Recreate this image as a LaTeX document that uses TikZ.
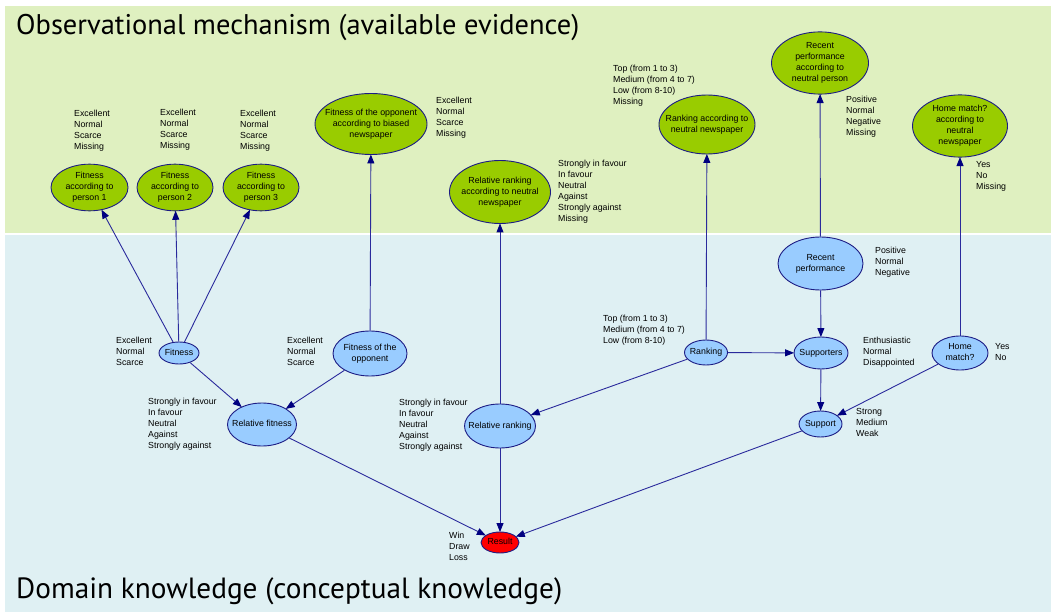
\documentclass[tikz,border=0pt]{standalone}
\usepackage{fontspec}
\setmainfont{Liberation Sans}
\newfontfamily\bandfont{PT Sans}
\usetikzlibrary{shapes.geometric,arrows.meta}

\definecolor{obsbg}{HTML}{DFF0C0}
\definecolor{domainbg}{HTML}{DFF0F3}
\definecolor{obsfill}{HTML}{99CC00}
\definecolor{varfill}{HTML}{99CCFF}
\definecolor{resfill}{HTML}{FF0000}
\definecolor{edge}{HTML}{2A2A9C}
\definecolor{rim}{HTML}{1C1C84}
\definecolor{tip}{HTML}{000080}

% centred multi-line text that does not widen its ellipse
\newcommand\inner[1]{\makebox[0pt]{\begin{tabular}{@{}c@{}}#1\end{tabular}}}

\tikzset{
  every node/.style={font=\fontsize{8.8}{11}\selectfont},
  oval/.style={ellipse, draw=rim, line width=0.9pt, inner sep=0pt},
  obs/.style={oval, fill=obsfill},
  var/.style={oval, fill=varfill},
  res/.style={oval, fill=resfill},
  states/.style={anchor=north west, inner sep=0pt, align=left},
  link/.style={draw=edge, line width=0.9pt,
    -{Triangle[length=9pt,width=7pt,fill=tip,color=tip]}, shorten >=-0.5pt},
  band/.style={inner sep=0pt, anchor=base west, font=\bandfont\fontsize{24}{28}\selectfont}
}

\begin{document}
\begin{tikzpicture}[x=1pt,y=-1pt]
\useasboundingbox (0,0) rectangle (1051,612);
\fill[white] (0,0) rectangle (1051,612);
\fill[obsbg] (5,6) rectangle (1051,233);
\fill[domainbg] (5,235) rectangle (1051,612);

\node[band] (obstitle) at (16,35) {\resizebox{563pt}{!}{Observational mechanism (available evidence)}};
\node[band] (domtitle) at (16,598) {\resizebox{546pt}{!}{Domain knowledge (conceptual knowledge)}};

% observed variables
\node[obs, minimum width=77pt, minimum height=45pt] (p1) at (89.5,187.5) {\inner{Fitness\\according to\\person 1}};
\node[obs, minimum width=76pt, minimum height=45pt] (p2) at (175,187.5) {\inner{Fitness\\according to\\person 2}};
\node[obs, minimum width=76pt, minimum height=45pt] (p3) at (261,187.5) {\inner{Fitness\\according to\\person 3}};
\node[obs, minimum width=112pt, minimum height=61pt] (oppnews) at (371,124) {\inner{Fitness of the opponent\\according to biased\\newspaper}};
\node[obs, minimum width=101pt, minimum height=63pt] (relnews) at (500,192) {\inner{Relative ranking\\according to neutral\\newspaper}};
\node[obs, minimum width=96pt, minimum height=59pt] (ranknews) at (707,124.5) {\inner{Ranking according to\\neutral newspaper}};
\node[obs, minimum width=97pt, minimum height=60pt] (recperson) at (820,63) {\inner{Recent\\performance\\according to\\neutral person}};
\node[obs, minimum width=95pt, minimum height=57pt] (homenews) at (960,126) {\inner{Home match?\\according to\\neutral\\newspaper}};

% domain variables
\node[var, minimum width=40pt, minimum height=22pt] (fit) at (179,353) {\inner{Fitness}};
\node[var, minimum width=74pt, minimum height=45pt] (opp) at (370,353.5) {\inner{Fitness of the\\opponent}};
\node[var, minimum width=69pt, minimum height=43pt] (relfit) at (262,424.5) {\inner{Relative fitness}};
\node[var, minimum width=71pt, minimum height=44pt] (relrank) at (500,426) {\inner{Relative ranking}};
\node[var, minimum width=43pt, minimum height=25pt] (rank) at (706,352.5) {\inner{Ranking}};
\node[var, minimum width=85pt, minimum height=53pt] (recent) at (820.5,263.5) {\inner{Recent\\performance}};
\node[var, minimum width=54pt, minimum height=32pt] (supporters) at (821,353) {\inner{Supporters}};
\node[var, minimum width=56pt, minimum height=34pt] (home) at (960,353) {\inner{Home\\match?}};
\node[var, minimum width=43pt, minimum height=26pt] (support) at (820.5,424) {\inner{Support}};
\node[res, minimum width=38pt, minimum height=21pt] (result) at (500,542.5) {\inner{Result}};

% state lists
\node[states] (sp1) at (74,110) {Excellent\\Normal\\Scarce\\Missing};
\node[states] (sp2) at (160,109) {Excellent\\Normal\\Scarce\\Missing};
\node[states] (sp3) at (240,110) {Excellent\\Normal\\Scarce\\Missing};
\node[states] (soppnews) at (436,97) {Excellent\\Normal\\Scarce\\Missing};
\node[states] (srelnews) at (558,160) {Strongly in favour\\In favour\\Neutral\\Against\\Strongly against\\Missing};
\node[states] (sranknews) at (613,65) {Top (from 1 to 3)\\Medium (from 4 to 7)\\Low (from 8-10)\\Missing};
\node[states] (srecperson) at (846,96) {Positive\\Normal\\Negative\\Missing};
\node[states] (shomenews) at (976,161) {Yes\\No\\Missing};
\node[states] (sfit) at (116,337) {Excellent\\Normal\\Scarce};
\node[states] (sopp) at (287,337) {Excellent\\Normal\\Scarce};
\node[states] (srelfit) at (148,398) {Strongly in favour\\In favour\\Neutral\\Against\\Strongly against};
\node[states] (srelrank) at (399,399) {Strongly in favour\\In favour\\Neutral\\Against\\Strongly against};
\node[states] (srank) at (603,315) {Top (from 1 to 3)\\Medium (from 4 to 7)\\Low (from 8-10)};
\node[states] (srecent) at (875,247) {Positive\\Normal\\Negative};
\node[states] (ssupporters) at (863,337) {Enthusiastic\\Normal\\Disappointed};
\node[states] (shome) at (995,343) {Yes\\No};
\node[states] (ssupport) at (856,408) {Strong\\Medium\\Weak};
\node[states] (sresult) at (449,532) {Win\\Draw\\Loss};

% observation links
\draw[link] (fit) -- (p1);
\draw[link] (fit) -- (p2);
\draw[link] (fit) -- (p3);
\draw[link] (opp) -- (oppnews);
\draw[link] (relrank) -- (relnews);
\draw[link] (rank) -- (ranknews);
\draw[link] (recent) -- (recperson);
\draw[link] (home) -- (homenews);

% causal links
\draw[link] (fit) -- (relfit);
\draw[link] (opp) -- (relfit);
\draw[link] (rank) -- (relrank);
\draw[link] (rank) -- (supporters);
\draw[link] (recent) -- (supporters);
\draw[link] (supporters) -- (support);
\draw[link] (home) -- (support);
\draw[link] (relfit) -- (result);
\draw[link] (relrank) -- (result);
\draw[link] (support) -- (result);
\end{tikzpicture}
\end{document}
